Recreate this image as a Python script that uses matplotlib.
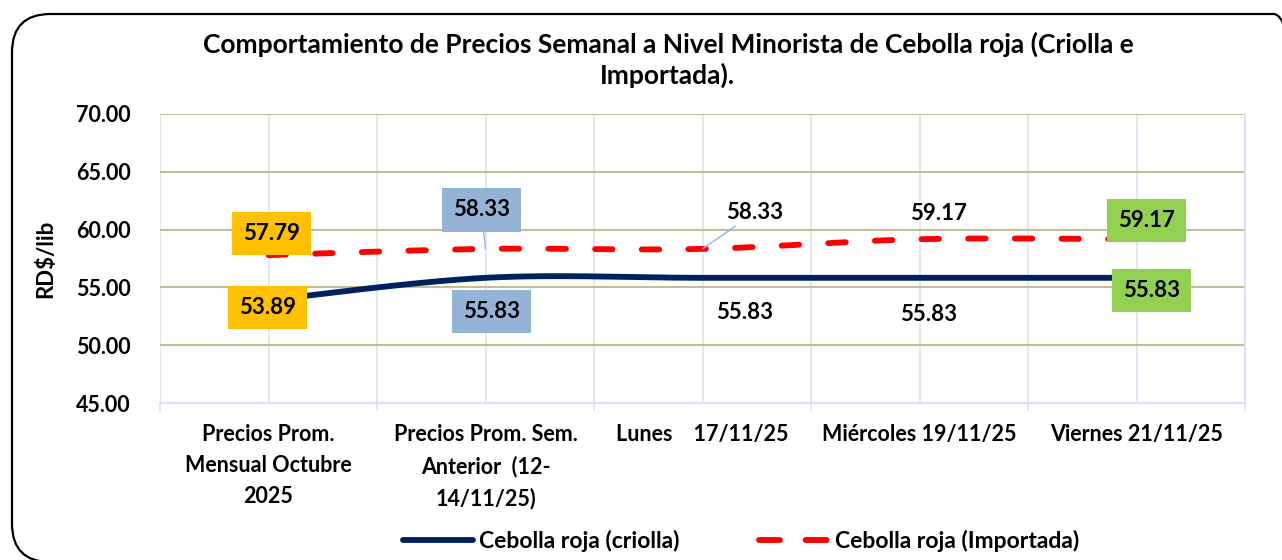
import matplotlib
matplotlib.use("Agg")
import matplotlib.pyplot as plt
import numpy as np
from matplotlib.patches import FancyBboxPatch
from matplotlib.lines import Line2D

plt.rcParams['font.family'] = ['Lato', 'DejaVu Sans']
plt.rcParams['font.weight'] = 'bold'
plt.rcParams['axes.labelweight'] = 'bold'

# Data
categories = ["Precios Prom.\nMensual Octubre\n2025",
              "Precios Prom. Sem.\nAnterior  (12-\n14/11/25)",
              "Lunes    17/11/25",
              "Miércoles 19/11/25",
              "Viernes 21/11/25"]
criolla = [53.89, 55.83, 55.83, 55.83, 55.83]
importada = [57.79, 58.33, 58.33, 59.17, 59.17]
series_names = ["Cebolla roja (criolla)", "Cebolla roja (Importada)"]

# label styling per point: (dx, dy) in pixels, box colour or None
crio_lbl = [((-1, -7), '#ffc000'), ((6, -34), '#95b3d7'), ((42, -35), None),
            ((9, -37), None), ((15, -13), '#92d050')]
imp_lbl = [((3, 22), '#ffc000'), ((-4, 39), '#95b3d7'), ((52, 36), None),
           ((19, 26), None), ((10, 19), '#92d050')]
leader = [False, True, True, False, False]


def smooth(xs, ys, n=40):
    # Catmull-Rom curve through the points (Excel-like smoothed line)
    P = np.column_stack([xs, ys]).astype(float)
    P = np.vstack([P[0], P, P[-1]])
    out = []
    t = np.linspace(0, 1, n)
    for i in range(1, len(P) - 2):
        p0, p1, p2, p3 = P[i - 1], P[i], P[i + 1], P[i + 2]
        c1 = p1 + (p2 - p0) / 6
        c2 = p2 - (p3 - p1) / 6
        seg = ((1 - t) ** 3)[:, None] * p1 + (3 * (1 - t) ** 2 * t)[:, None] * c1 \
            + (3 * (1 - t) * t ** 2)[:, None] * c2 + (t ** 3)[:, None] * p2
        out.append(seg)
    pts = np.vstack(out)
    return pts[:, 0], pts[:, 1]


fig = plt.figure(figsize=(12.82, 5.6), dpi=100)
ax = fig.add_axes([160 / 1282, 1 - 403 / 560, 1085 / 1282, 289 / 560])

# outer rounded frame
frame = FancyBboxPatch((12 / 1282, -2 / 560), 1300 / 1282, 548 / 560,
                       boxstyle="round,pad=0,rounding_size=0.03",
                       transform=fig.transFigure, fill=False, ec='black',
                       lw=1.6, mutation_aspect=1282 / 560, clip_on=False)
fig.patches.append(frame)

x = np.arange(len(categories))
sx, sy = smooth(x, criolla)
ax.plot(sx, sy, color='#002060', lw=4.2, solid_capstyle='butt', zorder=3)
sx, sy = smooth(x, importada)
ax.plot(sx, sy, color='#ff0000', lw=4.2, linestyle=(0, (3.0, 5.0)),
        dash_capstyle='round', zorder=3)

ax.set_xlim(-0.5, 4.5)
ax.set_ylim(45, 70)
ax.set_yticks(np.arange(45, 70.1, 5))
ax.set_yticklabels([f"{v:.2f}" for v in np.arange(45, 70.1, 5)], fontsize=15.5)
ax.set_xticks(x)
ax.set_xticklabels(categories, fontsize=15.5, linespacing=1.6, va='top')
ax.tick_params(axis='x', length=0, pad=15)
ax.tick_params(axis='y', length=0, pad=21)
ax.set_xticks(np.arange(-0.5, 4.6, 1), minor=True)
ax.tick_params(axis='x', which='minor', length=6, color='#d9e2f3', width=1.2)

for v in np.arange(50, 70.1, 5):
    ax.axhline(v, color='#c4bd97', lw=1.5, zorder=1)
for v in np.arange(-0.5, 4.6, 0.5):
    ax.axvline(v, color='#dae3f3', lw=1.2, zorder=0)
for s in ['top', 'left']:
    ax.spines[s].set_visible(False)
ax.spines['bottom'].set_color('#d9e2f3')
ax.spines['bottom'].set_linewidth(1.5)
ax.spines['right'].set_color('#d9e2f3')
ax.spines['right'].set_linewidth(1.5)

ax.set_ylabel("RD$/lib", fontsize=16, labelpad=14)

# data labels
for i in range(len(x)):
    for vals, lbl in ((criolla, crio_lbl), (importada, imp_lbl)):
        (dx, dy), col = lbl[i]
        bb = dict(boxstyle='square,pad=0.5', fc=col, ec='none') if col else None
        ap = None
        if lbl is imp_lbl and leader[i]:
            ap = dict(arrowstyle='-', color='#8eb4e3', lw=1, shrinkA=0, shrinkB=0)
        ax.annotate(f"{vals[i]:.2f}", xy=(x[i], vals[i]), xytext=(dx, dy),
                    textcoords='offset pixels', ha='center', va='center',
                    fontsize=16, bbox=bb, arrowprops=ap, zorder=5)

fig.suptitle("Comportamiento de Precios Semanal a Nivel Minorista de Cebolla roja (Criolla e\nImportada).",
             x=0.521, y=0.943, fontsize=19, fontweight='bold', linespacing=1.27)

h1 = Line2D([], [], color='#002060', lw=4.2, solid_capstyle='round')
h2 = Line2D([], [], color='#ff0000', lw=4.2, linestyle=(0, (3.6, 4.4)),
            dash_capstyle='round')
fig.legend([h1, h2], series_names, loc='center', bbox_to_anchor=(741 / 1282, 1 - 541 / 560),
           ncol=2, frameon=False, fontsize=16.5, handlelength=3.05,
           handletextpad=0.26, columnspacing=3.5)

fig.savefig("out.png", dpi=100)
